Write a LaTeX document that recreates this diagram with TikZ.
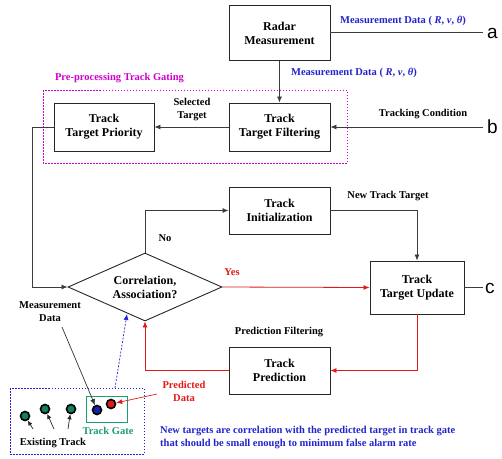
\documentclass[tikz,border=0pt]{standalone}
\usepackage{fontspec}
\setmainfont{Liberation Serif}
\newfontfamily\labfont{Liberation Sans}
\usetikzlibrary{shapes.geometric,arrows.meta}
\definecolor{tblue}{RGB}{35,35,205}
\definecolor{tmag}{RGB}{205,0,205}
\definecolor{tred}{RGB}{225,25,25}
\definecolor{tgreen}{RGB}{25,160,110}
\definecolor{lgray}{RGB}{60,60,60}
\newcommand{\bxfont}{\fontsize{12}{14}\selectfont\bfseries}
\newcommand{\smfont}{\fontsize{10.5}{13}\selectfont\bfseries}
\begin{document}
\begin{tikzpicture}[x=1pt,y=-1pt,
  bx/.style={draw=black!85, line width=0.9pt, minimum width=101pt, minimum height=48pt, inner sep=0pt, align=center, font=\bxfont},
  lab/.style={font=\smfont, align=center, inner sep=0pt},
  conn/.style={draw=lgray, line width=0.8pt},
  arr/.style={conn, -{Latex[length=6pt,width=5pt]}},
  rarr/.style={draw=tred, line width=0.8pt, -{Latex[length=6pt,width=5pt]}},
  dot/.style={circle, draw=black, line width=1.6pt, minimum size=9pt, inner sep=0pt},
  abc/.style={font=\labfont\fontsize{19}{19}\selectfont, anchor=west, inner sep=0pt}
]
\useasboundingbox (0,0) rectangle (502,458);

% boxes
\node[bx, minimum height=55pt] (radar) at (279.5,33) {Radar\\Measurement};
\node[bx] (ttf) at (279.5,127) {Track\\Target Filtering};
\node[bx, minimum width=100pt] (ttp) at (104,127) {Track\\Target Priority};
\node[bx, minimum height=47pt] (ti) at (279.5,210.5) {Track\\Initialization};
\node[bx, minimum width=94pt, minimum height=53pt] (ttu) at (417,287.5) {Track\\Target Update};
\node[bx, minimum height=47pt] (tp) at (279.5,370.5) {Track\\Prediction};
\node[diamond, draw=black!85, line width=0.9pt, aspect=2.26, minimum width=154pt, minimum height=68pt, inner sep=0pt, align=center, font=\bxfont] (dia) at (145,287) {Correlation,\\Association?};

% pre-processing gating frame
\draw[tmag, line width=0.6pt, dash pattern=on 1.5pt off 1.5pt] (43,90) rectangle (347,163);
\node[lab, text=tmag] (pplab) at (119.5,78) {Pre-processing Track Gating};

% outer terminals
\coordinate (ca) at (483,32);
\coordinate (cb) at (483,127);
\coordinate (cc) at (483,287.5);
\node[abc] (la) at (487,33) {a};
\node[abc] (lb) at (487,127) {b};
\node[abc] (lc) at (485,288) {c};

% connectors
\draw[conn] (radar.east |- ca) -- (ca);
\node[lab, text=tblue] (md1) at (403,21) {Measurement Data ( \textit{R}, \textit{v}, \textit{θ})};
\draw[arr] (radar.south) -- (ttf.north);
\node[lab, text=tblue] (md2) at (354,73) {Measurement Data ( \textit{R}, \textit{v}, \textit{θ})};
\draw[arr] (ttf.west) -- (ttp.east);
\node[lab] (sel) at (192,109.5) {Selected\\Target};
\draw[arr] (cb) -- (ttf.east);
\node[lab] (tc) at (423,114) {Tracking Condition};
\draw[arr] (ttp.west) -- ++(-21,0) |- (dia.west);
\draw[arr] (dia.north) |- (ti.west);
\node[lab] (no) at (165,238) {No};
\draw[arr] (ti.east) -| (ttu.north);
\node[lab] (ntt) at (388,196) {New Track Target};
\draw[rarr] (dia.east) -- (ttu.west);
\node[lab, text=tred] (yes) at (232,272) {Yes};
\draw[conn] (ttu.east) -- (cc);
\draw[rarr] (ttu.south) |- (tp.east);
\draw[rarr] (tp.west) -| (dia.south);
\node[lab] (pf) at (279,332) {Prediction Filtering};

% track gate illustration
\draw[tblue, line width=0.6pt, dash pattern=on 1.5pt off 1.5pt] (10,388) rectangle (144,454);
\draw[tgreen, line width=0.8pt] (86,396) rectangle (127,422);
\node[dot, fill=tblue!85!black] (bc) at (97,410) {};
\node[dot, fill=tred] (rc) at (111,404) {};
\node[dot, fill=tgreen!80!black] (g1) at (25,416) {};
\node[dot, fill=tgreen!80!black] (g2) at (45,409) {};
\node[dot, fill=tgreen!80!black] (g3) at (71,409) {};

\node[lab] (mdl) at (50,311.5) {Measurement\\Data};
\coordinate (mds) at (62,327);
\draw[draw=black!80, line width=0.7pt, -{Latex[length=6pt,width=5pt]}] (mds) -- (bc);
\coordinate (bs) at (115,388);
\coordinate (be) at (127,314);
\draw[tblue, line width=0.7pt, dash pattern=on 2pt off 1.5pt, -{Latex[length=6pt,width=5pt]}] (bs) -- (be);

\coordinate (e1) at (33,429);
\coordinate (e2) at (54,429);
\coordinate (e3) at (68,429);
\draw[draw=black!85, line width=0.7pt, -{Latex[length=5pt,width=4.5pt]}] (e1) -- (g1);
\draw[draw=black!85, line width=0.7pt, -{Latex[length=5pt,width=4.5pt]}] (e2) -- (g2);
\draw[draw=black!85, line width=0.7pt, -{Latex[length=5pt,width=4.5pt]}] (e3) -- (g3);
\node[lab] (ext) at (53,443) {Existing Track};
\node[lab, text=tgreen] (tg) at (108,431) {Track Gate};

\node[lab, text=tred] (pd) at (184,391.5) {Predicted\\Data};
\coordinate (ps) at (157,394);
\draw[rarr, line width=0.7pt] (ps) -- (rc);

\node[lab, text=tblue, anchor=west, align=left] (note) at (160,437.5) {New targets are correlation with the predicted target in track gate\\that should be small enough to minimum false alarm rate};
\end{tikzpicture}
\end{document}
